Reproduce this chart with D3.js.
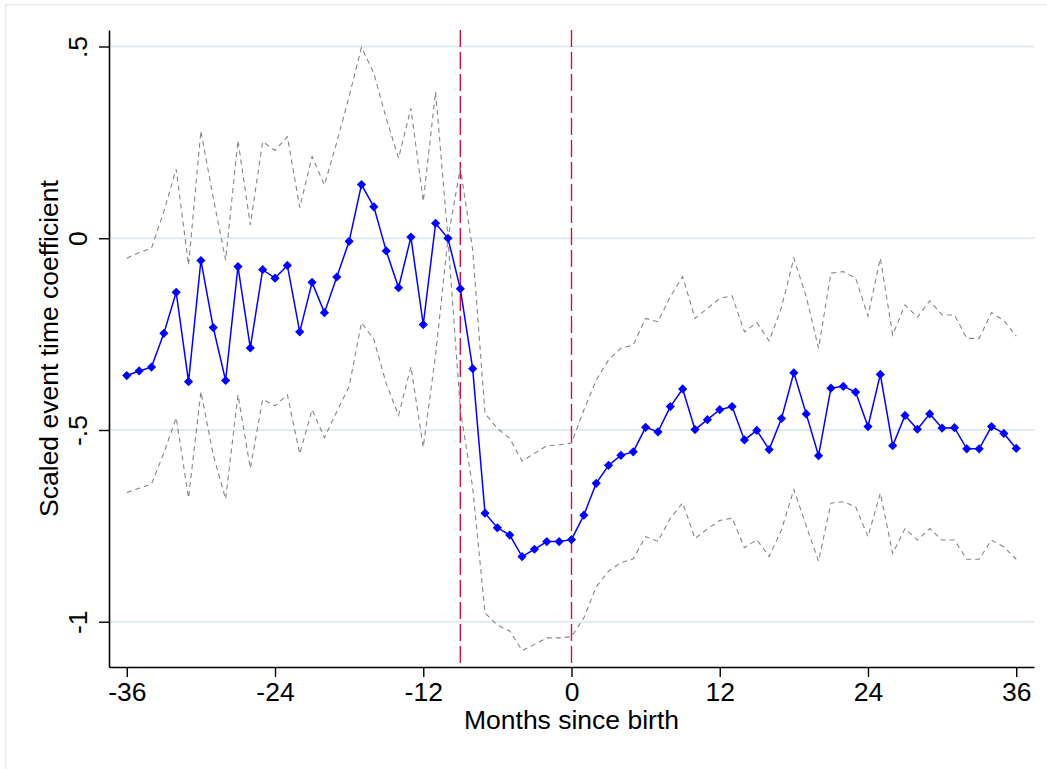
<!DOCTYPE html>
<html>
<head>
<meta charset="utf-8">
<script src="https://cdn.jsdelivr.net/npm/d3@7"></script>
<style>
  html, body { margin: 0; padding: 0; background: #ffffff; }
  svg { display: block; }
  text { font-family: Arial, "Liberation Sans", Helvetica, sans-serif; fill: #000; }
</style>
</head>
<body>
<svg id="chart" width="1047" height="769"></svg>
<script>
// Event time (months relative to birth)
const months = d3.range(-36, 37);

// Point estimates
const coef = [
  -0.358, -0.346, -0.336, -0.248, -0.141, -0.374, -0.058, -0.233, -0.371, -0.074,
  -0.286, -0.082, -0.104, -0.071, -0.244, -0.115, -0.194, -0.101, -0.008,  0.140,
   0.082, -0.033, -0.129,  0.003, -0.225,  0.039,  0.000, -0.132, -0.340, -0.717,
  -0.755, -0.774, -0.830, -0.811, -0.791, -0.791, -0.786, -0.722, -0.639, -0.592,
  -0.566, -0.557, -0.493, -0.505, -0.439, -0.393, -0.499, -0.473, -0.447, -0.439,
  -0.526, -0.501, -0.551, -0.470, -0.351, -0.458, -0.567, -0.391, -0.386, -0.401,
  -0.491, -0.355, -0.541, -0.462, -0.498, -0.458, -0.495, -0.494, -0.549, -0.549,
  -0.491, -0.509, -0.548
];

// Upper confidence bound
const upper = [
  -0.052, -0.037, -0.026,  0.070,  0.180, -0.070,  0.280,  0.105, -0.057,  0.255,
   0.035,  0.252,  0.229,  0.265,  0.080,  0.213,  0.139,  0.250,  0.370,  0.498,
   0.430,  0.313,  0.209,  0.339,  0.096,  0.382,  0.000,  0.183, -0.030, -0.457,
  -0.496, -0.522, -0.581, -0.561, -0.541, -0.539, -0.534, -0.448, -0.370, -0.317,
  -0.287, -0.278, -0.209, -0.218, -0.152, -0.100, -0.209, -0.183, -0.157, -0.150,
  -0.244, -0.220, -0.268, -0.180, -0.052, -0.152, -0.287, -0.091, -0.087, -0.104,
  -0.203, -0.052, -0.252, -0.174, -0.206, -0.163, -0.200, -0.200, -0.261, -0.261,
  -0.194, -0.215, -0.255
];

// Lower confidence bound
const lower = [
  -0.663, -0.652, -0.641, -0.560, -0.468, -0.677, -0.400, -0.565, -0.680, -0.408,
  -0.600, -0.420, -0.437, -0.408, -0.562, -0.447, -0.520, -0.452, -0.386, -0.220,
  -0.264, -0.379, -0.462, -0.335, -0.545, -0.304,  0.000, -0.447, -0.650, -0.977,
  -1.009, -1.024, -1.075, -1.059, -1.042, -1.042, -1.039, -0.990, -0.909, -0.868,
  -0.846, -0.836, -0.778, -0.790, -0.730, -0.690, -0.783, -0.758, -0.736, -0.730,
  -0.807, -0.786, -0.830, -0.760, -0.655, -0.750, -0.842, -0.691, -0.687, -0.700,
  -0.778, -0.665, -0.822, -0.757, -0.787, -0.757, -0.787, -0.787, -0.837, -0.837,
  -0.787, -0.805, -0.837
];

// Axis ticks and reference lines
const xTicks = [-36, -24, -12, 0, 12, 24, 36];
const yTicks = [0.5, 0, -0.5, -1];
const yTickLabels = [".5", "0", "-.5", "-1"];
const refLines = [-9, 0];

const xTitle = "Months since birth";
const yTitle = "Scaled event time coefficient";

const svg = d3.select("#chart");
const W = 1047, H = 769;
const plot = { left: 109, right: 1034, top: 30, bottom: 667 };
const fontSize = "26.5px";

// outer graph frame
svg.append("rect")
  .attr("x", 5.5).attr("y", 4.5)
  .attr("width", W + 20).attr("height", H + 20)
  .attr("fill", "#ffffff")
  .attr("stroke", "#e4ebef")
  .attr("stroke-width", 1.5);

const x = d3.scaleLinear().domain([-37.44, 37.44]).range([plot.left, plot.right]);
const y = d3.scaleLinear().domain([-1.118, 0.543]).range([plot.bottom, plot.top]);

// horizontal gridlines
svg.append("g")
  .selectAll("line")
  .data(yTicks)
  .join("line")
  .attr("x1", plot.left).attr("x2", plot.right)
  .attr("y1", d => y(d)).attr("y2", d => y(d))
  .attr("stroke", "#e1eaee")
  .attr("stroke-width", 1.8);

// vertical reference lines
svg.append("g")
  .selectAll("line")
  .data(refLines)
  .join("line")
  .attr("x1", d => x(d)).attr("x2", d => x(d))
  .attr("y1", plot.top).attr("y2", plot.bottom)
  .attr("stroke", "#d40f3a")
  .attr("stroke-width", 1.4)
  .attr("stroke-dasharray", "17,5");

const rows = months.map((m, i) => ({ m, b: coef[i], hi: upper[i], lo: lower[i] }));

// confidence bounds
const ciLine = key => d3.line().x(d => x(d.m)).y(d => y(d[key]));
["hi", "lo"].forEach(key => {
  svg.append("path")
    .datum(rows)
    .attr("d", ciLine(key))
    .attr("fill", "none")
    .attr("stroke", "#858585")
    .attr("stroke-width", 1.1)
    .attr("stroke-dasharray", "5,4");
});

// point estimates: connected line with diamond markers
svg.append("path")
  .datum(rows)
  .attr("d", d3.line().x(d => x(d.m)).y(d => y(d.b)))
  .attr("fill", "none")
  .attr("stroke", "#0000ff")
  .attr("stroke-width", 1.5);

const r = 4.6;
svg.append("g")
  .selectAll("path")
  .data(rows)
  .join("path")
  .attr("transform", d => `translate(${x(d.m)},${y(d.b)})`)
  .attr("d", `M0,${-r}L${r},0L0,${r}L${-r},0Z`)
  .attr("fill", "#0000ff");

// x axis
const xAxis = svg.append("g")
  .attr("transform", `translate(0,${plot.bottom})`)
  .call(d3.axisBottom(x).tickValues(xTicks).tickSize(10).tickSizeOuter(0)
    .tickFormat(d => String(d)));
xAxis.select(".domain").attr("stroke", "#000").attr("stroke-width", 1.6);
xAxis.selectAll(".tick line").attr("stroke", "#000").attr("stroke-width", 1.4);
xAxis.selectAll(".tick text")
  .attr("y", 34).attr("dy", null)
  .style("font-size", fontSize)
  .style("font-family", 'Arial, "Liberation Sans", sans-serif')
  .attr("fill", "#000");

// y axis
const yAxis = svg.append("g")
  .attr("transform", `translate(${plot.left},0)`)
  .call(d3.axisLeft(y).tickValues(yTicks).tickSize(10).tickSizeOuter(0)
    .tickFormat((d, i) => yTickLabels[i]));
yAxis.select(".domain").attr("stroke", "#000").attr("stroke-width", 1.6);
yAxis.selectAll(".tick line").attr("stroke", "#000").attr("stroke-width", 1.4);
yAxis.selectAll(".tick text")
  .attr("x", null).attr("dy", null)
  .attr("text-anchor", "middle")
  .attr("transform", "translate(-22,0) rotate(-90)")
  .style("font-size", fontSize)
  .style("font-family", 'Arial, "Liberation Sans", sans-serif')
  .attr("fill", "#000");

// axis titles
svg.append("text")
  .attr("x", (plot.left + plot.right) / 2)
  .attr("y", 729)
  .attr("text-anchor", "middle")
  .style("font-size", fontSize)
  .text(xTitle);

svg.append("text")
  .attr("transform", `translate(58,${(plot.top + plot.bottom) / 2}) rotate(-90)`)
  .attr("text-anchor", "middle")
  .style("font-size", fontSize)
  .text(yTitle);
</script>
</body>
</html>
